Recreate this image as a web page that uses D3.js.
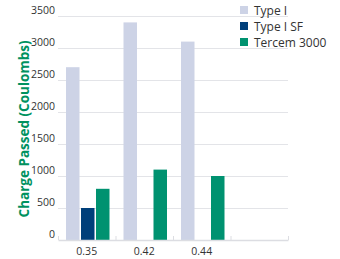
<!DOCTYPE html>
<meta charset="utf-8">
<script src="https://d3js.org/d3.v7.min.js"></script>
<html>
<body style="margin:0;background:#fff">
<div id="chart"></div>
<script>
// chart data
var categories = ["0.35", "0.42", "0.44", ""];
var seriesNames = ["Type I", "Type I SF", "Tercem 3000"];
var typeI = [2700, 3400, 3100, null];
var typeISF = [500, null, null, null];
var tercem = [800, 1100, 1000, null];
var yTicks = [0, 500, 1000, 1500, 2000, 2500, 3000, 3500];
var colorArr = ["#cdd3e6", "#003f7a", "#009270"];

var margin = {top: 16, right: 52, bottom: 19, left: 58},
    width = 340 - margin.left - margin.right,
    height = 259 - margin.top - margin.bottom;

var svg = d3.select("#chart")
  .append("svg")
    .attr("width", 340)
    .attr("height", 259)
    .style("font-family", "'Open Sans', sans-serif")
  .append("g")
    .attr("transform", "translate(" + margin.left + "," + margin.top + ")");

var x = d3.scaleBand().domain(categories).range([0, width]);
var y = d3.scaleLinear().domain([0, 3500]).range([height, 0]);
var xSub = d3.scaleBand().domain(d3.range(3)).range([8, x.bandwidth() - 6]).paddingInner(0.1);

// gridlines
svg.append("g")
  .selectAll("line")
  .data(yTicks.slice(1))
  .enter().append("line")
    .attr("x1", 0).attr("x2", width)
    .attr("y1", function(d) { return y(d) + 0.5; })
    .attr("y2", function(d) { return y(d) + 0.5; })
    .attr("stroke", "#e3e4e8");

// y tick labels
svg.append("g")
  .selectAll("text")
  .data(yTicks)
  .enter().append("text")
    .attr("x", -3)
    .attr("y", function(d) { return y(d) - 2; })
    .attr("text-anchor", "end")
    .attr("font-size", "10.5px")
    .attr("fill", "#333")
    .text(function(d) { return d; });

// bars
var rows = categories.map(function(c, i) {
  return {cat: c, vals: [typeI[i], typeISF[i], tercem[i]]};
});
var groups = svg.selectAll(".grp")
  .data(rows)
  .enter().append("g")
    .attr("transform", function(d) { return "translate(" + x(d.cat) + ",0)"; });
groups.selectAll("rect")
  .data(function(d) { return d.vals.map(function(v, j) { return {v: v, j: j}; }).filter(function(e) { return e.v != null; }); })
  .enter().append("rect")
    .attr("x", function(d) { return xSub(d.j); })
    .attr("width", xSub.bandwidth())
    .attr("y", function(d) { return y(d.v); })
    .attr("height", function(d) { return height - y(d.v); })
    .attr("fill", function(d) { return colorArr[d.j]; });

// x axis
var xAxis = svg.append("g")
  .attr("transform", "translate(0," + height + ")")
  .call(d3.axisBottom(x).tickSize(0).tickSizeOuter(0));
xAxis.select(".domain").attr("stroke", "#dcdde2").attr("stroke-width", 1.5);
xAxis.selectAll("text")
  .attr("dy", "1.1em")
  .attr("font-size", "10.5px")
  .attr("fill", "#333")
  .style("font-family", "'Open Sans', sans-serif");
// boundary ticks
svg.append("g")
  .selectAll("line")
  .data(d3.range(categories.length + 1))
  .enter().append("line")
    .attr("x1", function(i) { return i * x.bandwidth() + 0.5; })
    .attr("x2", function(i) { return i * x.bandwidth() + 0.5; })
    .attr("y1", height - 4).attr("y2", height)
    .attr("stroke", "#dcdde2");

// y label
svg.append("text")
  .attr("transform", "translate(" + (-29) + "," + (height / 2 + 1) + ") rotate(-90)")
  .attr("text-anchor", "middle")
  .attr("font-size", "13.5px")
  .attr("font-weight", "bold")
  .attr("fill", "#00925f")
  .text("Charge Passed (Coulombs)");

// legend
var legend = svg.append("g")
  .attr("transform", "translate(" + (width - 48) + "," + (-11) + ")");
var li = legend.selectAll("g")
  .data(seriesNames)
  .enter().append("g")
    .attr("transform", function(d, i) { return "translate(0," + (i * 16) + ")"; });
li.append("rect")
  .attr("width", 8).attr("height", 8)
  .attr("y", 1)
  .attr("fill", function(d, i) { return colorArr[i]; });
li.append("text")
  .attr("x", 14).attr("y", 9.5)
  .attr("font-size", "12px")
  .attr("fill", "#333")
  .text(function(d) { return d; });
</script>
</body>
</html>
